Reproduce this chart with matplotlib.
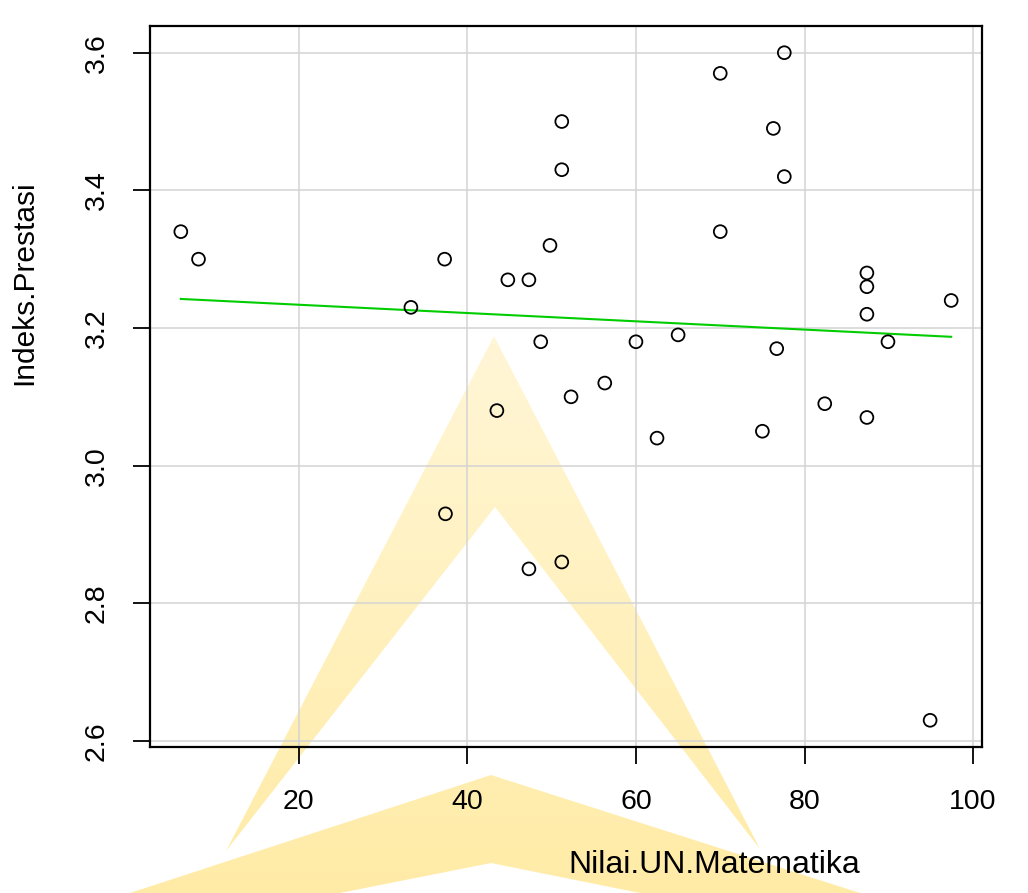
import numpy as np
import matplotlib.pyplot as plt
from matplotlib.path import Path
from matplotlib.patches import PathPatch

plt.rcParams['font.family'] = ['Liberation Sans', 'DejaVu Sans']

# Nilai UN Matematika vs Indeks Prestasi
nilai_un = [6.0, 8.1, 33.3, 37.3, 37.4, 43.5, 44.8, 47.3, 47.3, 48.7, 49.8,
            51.2, 51.2, 51.2, 52.3, 56.3, 60.0, 62.5, 65.0, 70.0, 70.0, 75.0,
            76.3, 76.7, 77.6, 77.6, 82.4, 87.4, 87.4, 87.4, 87.4, 89.9, 94.9, 97.4]
ip = [3.34, 3.30, 3.23, 3.30, 2.93, 3.08, 3.27, 3.27, 2.85, 3.18, 3.32,
      3.50, 3.43, 2.86, 3.10, 3.12, 3.18, 3.04, 3.19, 3.57, 3.34, 3.05,
      3.49, 3.17, 3.60, 3.42, 3.09, 3.28, 3.26, 3.22, 3.07, 3.18, 2.63, 3.24]
xticks = [20, 40, 60, 80, 100]
yticks = [2.6, 2.8, 3.0, 3.2, 3.4, 3.6]

x = np.array(nilai_un)
y = np.array(ip)

fig = plt.figure(figsize=(10.28, 8.93), dpi=100)

# watermark in the background (pixel coords of the figure)
bg = fig.add_axes([0, 0, 1, 1], zorder=-1)
bg.set_xlim(0, 1028)
bg.set_ylim(893, 0)
bg.axis('off')
upper = [(494, 336), (760, 849), (495, 507), (226, 851), (494, 336)]
lower = [(491, 775), (860, 893), (640, 893), (491, 863), (340, 893), (130, 893), (491, 775)]
verts, codes = [], []
for poly in (upper, lower):
    verts += poly
    codes += [Path.MOVETO] + [Path.LINETO] * (len(poly) - 2) + [Path.CLOSEPOLY]
patch = PathPatch(Path(verts, codes), facecolor='none', edgecolor='none')
bg.add_patch(patch)
alpha = np.linspace(0.22, 0.5, 256).reshape(-1, 1)
img = np.zeros((256, 1, 4))
img[..., 0] = 1.0
img[..., 1] = 0.85
img[..., 2] = 0.3
img[..., 3] = alpha
im = bg.imshow(img, extent=[0, 1028, 893, 320], aspect='auto', interpolation='bilinear')
im.set_clip_path(patch)

ax = fig.add_axes([150 / 1028, 1 - 747 / 893, 832 / 1028, 721 / 893])
ax.set_facecolor('none')
ax.grid(True, color='#d3d3d3', linewidth=1.1)
ax.set_axisbelow(True)

ax.scatter(x, y, s=85, facecolors='none', edgecolors='black', linewidths=1.3, zorder=3)

slope, intercept = np.polyfit(x, y, 1)
xs = np.array([x.min(), x.max()])
ax.plot(xs, intercept + slope * xs, color='#00cd00', linewidth=1.5, zorder=2)

ax.margins(0.04)
ax.set_xticks(xticks)
ax.set_yticks(yticks)
ax.set_yticklabels([f'{v:.1f}' for v in yticks], rotation=90, va='center')
ax.tick_params(axis='both', length=12, width=1.3, labelsize=20.5, color='black')
ax.tick_params(axis='x', pad=18)
ax.tick_params(axis='y', pad=17)
for sp in ax.spines.values():
    sp.set_linewidth(1.6)

fig.text(714 / 1028, 1 - 865 / 893, 'Nilai.UN.Matematika', ha='center', va='center', fontsize=23)
fig.text(24 / 1028, 1 - 283 / 893, 'Indeks.Prestasi', ha='center', va='center',
         rotation=90, fontsize=21.5)

fig.savefig('out.png', dpi=100)
